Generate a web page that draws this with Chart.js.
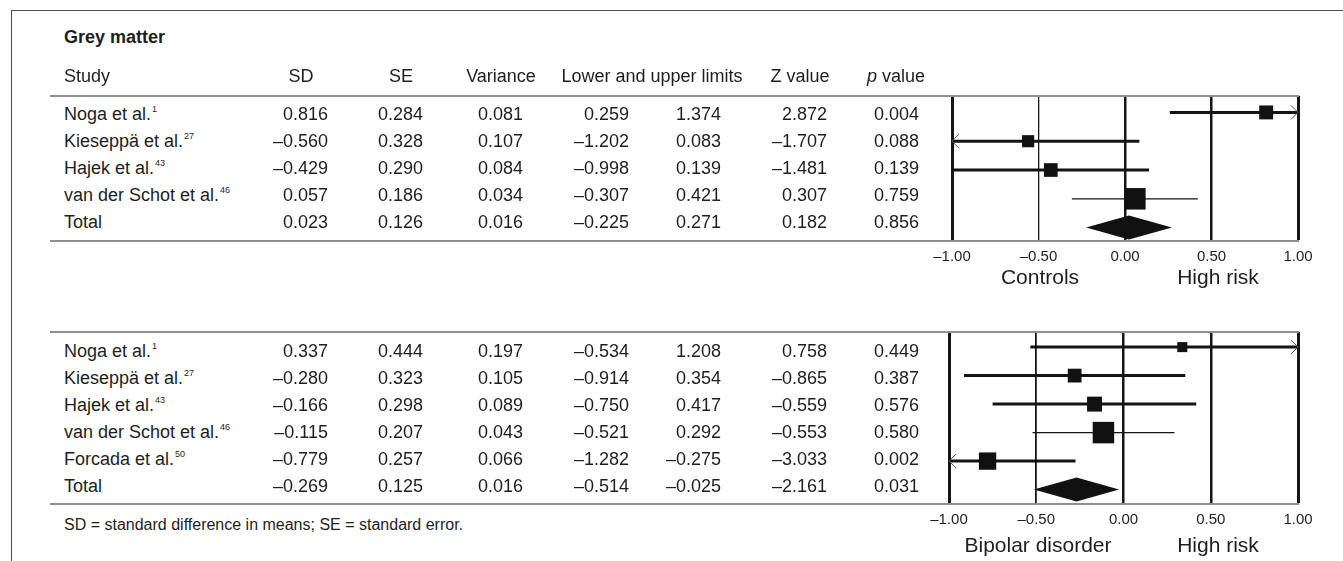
<!DOCTYPE html>
<html>
<head>
<meta charset="utf-8">
<script src="https://cdn.jsdelivr.net/npm/chart.js@4/dist/chart.umd.min.js"></script>
<style>
  html, body { margin: 0; padding: 0; background: #fff; }
  #page {
    position: relative; width: 1343px; height: 561px; overflow: hidden; background: #fff;
    font-family: "Liberation Sans", Arial, Helvetica, sans-serif; color: #1e1e1e;
  }
  .t { position: absolute; white-space: nowrap; }
  .rule { position: absolute; background: #8f8f8f; height: 2px; }
  .frame { position: absolute; background: #4a4a4a; }
  sup { font-size: 9px; vertical-align: 8px; line-height: 0; margin-left: 1px; }
  canvas { position: absolute; }
</style>
</head>
<body>
<div id="page">
  <div class="frame" style="left:11px; top:10px; width:1332px; height:1px;"></div>
  <div class="frame" style="left:11px; top:10px; width:1px; height:551px;"></div>
  <canvas id="plotA" width="443" height="240" style="left:900px; top:60px;"></canvas>
  <canvas id="plotB" width="443" height="261" style="left:900px; top:300px;"></canvas>
</div>
<script>
// ---- Grey matter: high risk vs controls ----
const studiesA  = ["Noga et al.", "Kieseppä et al.", "Hajek et al.", "van der Schot et al.", "Total"];
const refsA     = ["1", "27", "43", "46", ""];
const sdA       = [0.816, -0.560, -0.429, 0.057, 0.023];
const seA       = [0.284, 0.328, 0.290, 0.186, 0.126];
const varianceA = [0.081, 0.107, 0.084, 0.034, 0.016];
const lowerA    = [0.259, -1.202, -0.998, -0.307, -0.225];
const upperA    = [1.374, 0.083, 0.139, 0.421, 0.271];
const zA        = [2.872, -1.707, -1.481, 0.307, 0.182];
const pA        = [0.004, 0.088, 0.139, 0.759, 0.856];

// ---- Grey matter: high risk vs bipolar disorder ----
const studiesB  = ["Noga et al.", "Kieseppä et al.", "Hajek et al.", "van der Schot et al.", "Forcada et al.", "Total"];
const refsB     = ["1", "27", "43", "46", "50", ""];
const sdB       = [0.337, -0.280, -0.166, -0.115, -0.779, -0.269];
const seB       = [0.444, 0.323, 0.298, 0.207, 0.257, 0.125];
const varianceB = [0.197, 0.105, 0.089, 0.043, 0.066, 0.016];
const lowerB    = [-0.534, -0.914, -0.750, -0.521, -1.282, -0.514];
const upperB    = [1.208, 0.354, 0.417, 0.292, -0.275, -0.025];
const zB        = [0.758, -0.865, -0.559, -0.553, -3.033, -2.161];
const pB        = [0.449, 0.387, 0.576, 0.580, 0.002, 0.031];

const axisTicks = [-1, -0.5, 0, 0.5, 1];
const headers = ["Study", "SD", "SE", "Variance", "Lower and upper limits", "Z value", "p value"];
const footnote = "SD = standard difference in means; SE = standard error.";

// ---- layout ----
const page = document.getElementById('page');
const FONT_ASC = 0.905, FONT_EM = 1.117;

function baselineTop(fs, lh, baseline) {
  return baseline - ((lh - FONT_EM * fs) / 2 + FONT_ASC * fs);
}
function addText(html, x, baseline, align, fs, extra) {
  const lh = Math.round(fs * 1.15);
  const d = document.createElement('div');
  d.className = 't';
  d.innerHTML = html;
  d.style.fontSize = fs + 'px';
  d.style.lineHeight = lh + 'px';
  d.style.top = baselineTop(fs, lh, baseline).toFixed(2) + 'px';
  const w = 400;
  if (align === 'right') { d.style.left = (x - w) + 'px'; d.style.width = w + 'px'; d.style.textAlign = 'right'; }
  else if (align === 'center') { d.style.left = (x - w / 2) + 'px'; d.style.width = w + 'px'; d.style.textAlign = 'center'; }
  else { d.style.left = x + 'px'; }
  if (extra) Object.assign(d.style, extra);
  page.appendChild(d);
}
function addRule(y) {
  const r = document.createElement('div');
  r.className = 'rule';
  r.style.left = '50px'; r.style.top = y + 'px'; r.style.width = '1249px';
  page.appendChild(r);
}
const fmt = (v) => v.toFixed(3).replace('-', '\u2013');

const colRight = [328, 423, 523, 629, 721, 827, 919];
const STUDY_X = 64, TABLE_FS = 18;

function table(names, refs, cols, baselines) {
  names.forEach((name, i) => {
    const sup = refs[i] ? '<sup>' + refs[i] + '</sup>' : '';
    addText(name + sup, STUDY_X, baselines[i], 'left', TABLE_FS);
    cols.forEach((col, c) => addText(fmt(col[i]), colRight[c], baselines[i], 'right', TABLE_FS));
  });
}

// Section A
addText('Grey matter', STUDY_X, 44, 'left', TABLE_FS, { fontWeight: 'bold' });
addText(headers[0], STUDY_X, 82.5, 'left', TABLE_FS);
const headerCenters = [301, 401, 501, 652, 800, 896];
headers.slice(1).forEach((h, i) => {
  const html = h === 'p value' ? '<i>p</i> value' : h;
  addText(html, headerCenters[i], 82.5, 'center', TABLE_FS);
});
addRule(95);
table(studiesA, refsA, [sdA, seA, varianceA, lowerA, upperA, zA, pA], [121, 148, 175, 202, 229]);
addRule(240);

// Section B
addRule(331);
table(studiesB, refsB, [sdB, seB, varianceB, lowerB, upperB, zB, pB], [358, 385, 412, 439, 466, 493]);
addRule(503);
addText(footnote, STUDY_X, 531, 'left', 16);

// Labels under the forest plots
addText('Controls', 1040, 284, 'center', 21);
addText('High risk', 1218, 284, 'center', 21);
addText('Bipolar disorder', 1038, 552, 'center', 21);
addText('High risk', 1218, 552, 'center', 21);

// ---- forest plots ----
const MAX_BOX = 21.5;       // side of the largest study box, px
const DIAMOND_HALF = 12;    // half height of the pooled-estimate diamond, px

const forestMarks = {
  id: 'forestMarks',
  afterDatasetsDraw(chart, args, o) {
    const { ctx, scales: { x, y } } = chart;
    const n = o.est.length - 1;
    ctx.save();
    // arrowheads for intervals running past the axis limits
    ctx.strokeStyle = '#555';
    ctx.lineWidth = 1;
    for (let i = 0; i < n; i++) {
      const py = y.getPixelForValue(i + 1);
      if (o.upper[i] > x.max) {
        const px = x.getPixelForValue(x.max);
        ctx.beginPath();
        ctx.moveTo(px - 7, py - 7); ctx.lineTo(px, py); ctx.lineTo(px - 7, py + 7);
        ctx.stroke();
      }
      if (o.lower[i] < x.min) {
        const px = x.getPixelForValue(x.min);
        ctx.beginPath();
        ctx.moveTo(px + 7, py - 7); ctx.lineTo(px, py); ctx.lineTo(px + 7, py + 7);
        ctx.stroke();
      }
    }
    // pooled estimate diamond
    const py = y.getPixelForValue(n + 1);
    ctx.fillStyle = '#111';
    ctx.beginPath();
    ctx.moveTo(x.getPixelForValue(o.lower[n]), py);
    ctx.lineTo(x.getPixelForValue(o.est[n]), py - DIAMOND_HALF);
    ctx.lineTo(x.getPixelForValue(o.upper[n]), py);
    ctx.lineTo(x.getPixelForValue(o.est[n]), py + DIAMOND_HALF);
    ctx.closePath();
    ctx.fill();
    ctx.restore();
  }
};

function forest(id, est, lower, upper, variance, ciWidths, gridWidths, cfg) {
  const n = est.length - 1;
  const weights = variance.slice(0, n).map(v => 1 / v);
  const wMax = Math.max(...weights);
  const radii = weights.map(w => MAX_BOX * Math.sqrt(w / wMax) / Math.SQRT2);

  const boxes = {
    data: est.slice(0, n).map((v, i) => ({ x: v, y: i + 1 })),
    pointStyle: 'rect',
    pointRadius: radii,
    pointHoverRadius: radii,
    backgroundColor: '#111',
    borderWidth: 0
  };
  const intervals = est.slice(0, n).map((v, i) => ({
    data: [{ x: lower[i], y: i + 1 }, { x: upper[i], y: i + 1 }],
    showLine: true,
    borderColor: '#141414',
    borderWidth: ciWidths[i],
    pointRadius: 0,
    pointHoverRadius: 0,
    clip: 0
  }));

  return new Chart(document.getElementById(id), {
    type: 'scatter',
    data: { datasets: [boxes, ...intervals] },
    options: {
      responsive: false,
      animation: false,
      devicePixelRatio: 1,
      events: [],
      layout: { autoPadding: false, padding: cfg.padding },
      plugins: {
        legend: { display: false },
        tooltip: { enabled: false },
        forestMarks: { est, lower, upper }
      },
      scales: {
        x: {
          type: 'linear',
          min: axisTicks[0],
          max: axisTicks[axisTicks.length - 1],
          afterBuildTicks: (s) => { s.ticks = axisTicks.map(v => ({ value: v })); },
          afterFit: (s) => { s.height = cfg.axisHeight; },
          border: { display: false },
          grid: {
            color: '#161616',
            lineWidth: (c) => gridWidths[axisTicks.indexOf(c.tick ? c.tick.value : 0)] || 1,
            drawTicks: false
          },
          ticks: {
            padding: cfg.tickPad,
            maxRotation: 0,
            autoSkip: false,
            color: '#1e1e1e',
            font: { family: '"Liberation Sans", Arial, sans-serif', size: 15 },
            callback: (v) => Number(v).toFixed(2).replace('-', '\u2013')
          }
        },
        y: {
          type: 'linear',
          reverse: true,
          min: cfg.yMin,
          max: cfg.yMax,
          display: false
        }
      }
    },
    plugins: [forestMarks]
  });
}

// widths of the reference lines at -1, -0.5, 0, 0.5, 1
forest('plotA', sdA, lowerA, upperA, varianceA, [3, 3, 3, 1.3],
  [3, 1.3, 2.5, 2.5, 3],
  { padding: { left: 52, right: 45, top: 36, bottom: 0 }, axisHeight: 60, tickPad: 8, yMin: 0.43, yMax: 5.43 });

forest('plotB', sdB, lowerB, upperB, varianceB, [3, 3, 3, 1.3, 3],
  [3, 1.8, 2.5, 2.5, 3],
  { padding: { left: 49, right: 45, top: 32, bottom: 0 }, axisHeight: 58, tickPad: 8, yMin: 0.47, yMax: 6.47 });
</script>
</body>
</html>
